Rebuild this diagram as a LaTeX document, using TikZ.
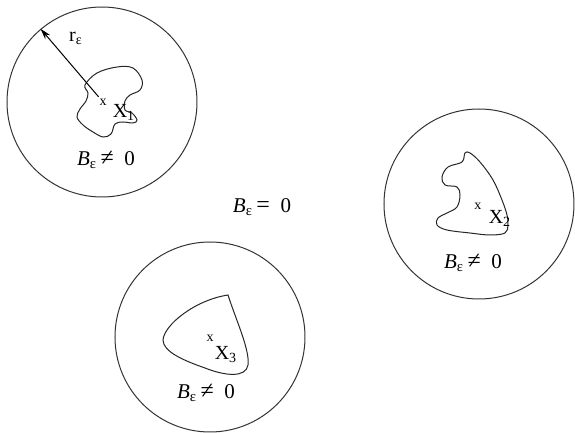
\documentclass[tikz,border=0pt]{standalone}
\usepackage{fontspec}
\setmainfont{Liberation Serif}
\usetikzlibrary{arrows.meta}
\newcommand\Beps{{\itshape B}\textsubscript{ε}}

\begin{document}
\begin{tikzpicture}[x=0.5pt,y=-0.5pt,>={Stealth[length=5.5pt,width=3.2pt]},
  disc/.style={circle,draw=black!80,line width=0.5pt,minimum size=95pt,inner sep=0pt},
  blob/.style={draw=black!85,line width=0.5pt},
  ptmark/.style={font=\scriptsize,inner sep=0.8pt},
  ptname/.style={font=\normalsize,inner sep=0pt},
  state/.style={font=\fontsize{10.5}{12}\selectfont,inner sep=0pt}]
\useasboundingbox (0,0) rectangle (575,433);
% balls
\node[disc] (c1) at (102,102) {};
\node[disc] (c2) at (479,204) {};
\node[disc] (c3) at (210,337) {};
% sets inside the balls
\draw[blob] plot[smooth cycle,tension=0.6] coordinates {(85,85) (97,73) (117,67) (133,68) (142,80) (140,90) (130,95) (125,101) (125,110) (132,113) (137,120) (133,123) (123,122) (115,124) (111,134) (103,137) (93,132) (83,125) (77,117) (80,109) (86,101) (88,93)};
\draw[blob] plot[smooth cycle,tension=0.6] coordinates {(462,162) (448,167) (442,177) (445,185) (457,187) (460,195) (457,207) (447,213) (438,218) (437,225) (447,230) (470,233) (490,235) (505,233) (508,225) (507,215) (502,200) (493,180) (480,162) (470,153) (465,153)};
\draw[blob] (228,295) .. controls (236,320) and (250,350) .. (248,365) .. controls (246,378) and (225,376) .. (205,368) .. controls (185,361) and (163,352) .. (163,340) .. controls (164,325) and (195,300) .. (228,295) -- cycle;
% points
\node[ptmark] (x1) at (103,102) {x};
\node[ptmark] (x2) at (478,206) {x};
\node[ptmark] (x3) at (210,338) {x};
\node[ptname] (n1) at (124,112) {X\textsubscript{1}};
\node[ptname] (n2) at (500,218) {X\textsubscript{2}};
\node[ptname] (n3) at (226,355) {X\textsubscript{3}};
% radius
\draw[->,line width=0.5pt] (x1) -- (c1.130);
\node[ptname] (r) at (76,38) {r\textsubscript{ε}};
% labels
\node[state] (s1) at (106,160) {\Beps\,{\large≠}\ \ 0};
\node[state] (s2) at (473,263) {\Beps\,{\large≠}\ \ 0};
\node[state] (s3) at (206,393) {\Beps\,{\large≠}\ \ 0};
\node[state] (s0) at (262,207) {\Beps\,{\large=}\ \ 0};
\end{tikzpicture}
\end{document}
